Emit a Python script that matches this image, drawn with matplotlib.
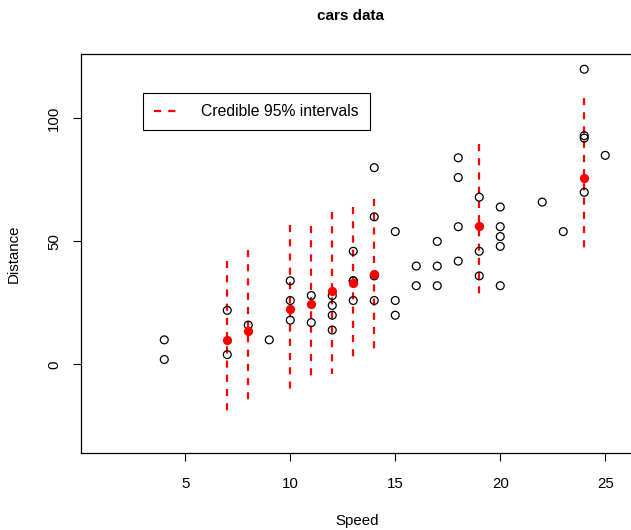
import matplotlib
matplotlib.use("Agg")
import matplotlib.pyplot as plt

plt.rcParams['font.family'] = ['Liberation Sans', 'DejaVu Sans']

# cars dataset
speed = [4, 4, 7, 7, 8, 9, 10, 10, 10, 11, 11, 12, 12, 12, 12, 13, 13, 13, 13,
         14, 14, 14, 14, 15, 15, 15, 16, 16, 17, 17, 17, 18, 18, 18, 18, 19, 19,
         19, 20, 20, 20, 20, 20, 22, 23, 24, 24, 24, 24, 25]
dist = [2, 10, 4, 22, 16, 10, 18, 26, 34, 17, 28, 14, 20, 24, 28, 26, 34, 34, 46,
        26, 36, 60, 80, 20, 26, 54, 32, 40, 32, 40, 50, 42, 56, 76, 84, 36, 46,
        68, 32, 48, 52, 56, 64, 66, 54, 70, 92, 93, 120, 85]

# posterior means and 95% credible intervals
ci_speed = [7, 8, 10, 11, 12, 13, 14, 19, 24]
ci_mean = [9.8, 13.4, 22.4, 24.7, 30.0, 33.3, 36.8, 56.4, 75.9]
ci_low = [-19.6, -15.0, -10.0, -5.1, -3.8, 2.7, 6.1, 28.3, 46.7]
ci_high = [42.0, 46.6, 56.6, 56.2, 61.8, 64.2, 67.4, 89.7, 108.4]

fig = plt.figure(figsize=(6.31, 5.30), dpi=100)
ax = fig.add_axes([80.7/631, 1-453/530, (634-80.7)/631, (453-54)/530])

ax.scatter(speed, dist, s=32, facecolors='none', edgecolors='black', linewidths=0.9, zorder=3)
for i in range(len(ci_speed)):
    ax.plot([ci_speed[i], ci_speed[i]], [ci_high[i], ci_low[i]], color='red', lw=1.6,
            dashes=(3.2, 3.2), zorder=2, label='Credible 95% intervals' if i == 0 else None)
ax.scatter(ci_speed, ci_mean, s=32, color='red', zorder=4)

ax.set_xlim(0.02, 26.37)
ax.set_ylim(-36, 126.2)
ax.set_xticks([5, 10, 15, 20, 25])
ax.set_yticks([0, 50, 100])
ax.tick_params(direction='out', length=6, width=0.8, labelsize=10.8)
ax.tick_params(axis='x', pad=11)
ax.tick_params(axis='y', pad=8)
for lab in ax.get_yticklabels():
    lab.set_rotation(90)
    lab.set_va('center')
for s in ax.spines.values():
    s.set_linewidth(0.9)

ax.set_xlabel('Speed', fontsize=10.8, labelpad=17)
ax.set_ylabel('Distance', fontsize=10.8, labelpad=19)
fig.suptitle('cars data', fontsize=11, fontweight='bold', x=0.555, y=0.983)

leg = ax.legend(loc='upper left', bbox_to_anchor=(0.1128, 0.902), fontsize=11.3,
                fancybox=False, edgecolor='black', framealpha=1, handlelength=1.7,
                borderpad=0.7, handletextpad=1.3, borderaxespad=0)
leg.get_frame().set_linewidth(0.8)

fig.savefig('out.png', dpi=100)
